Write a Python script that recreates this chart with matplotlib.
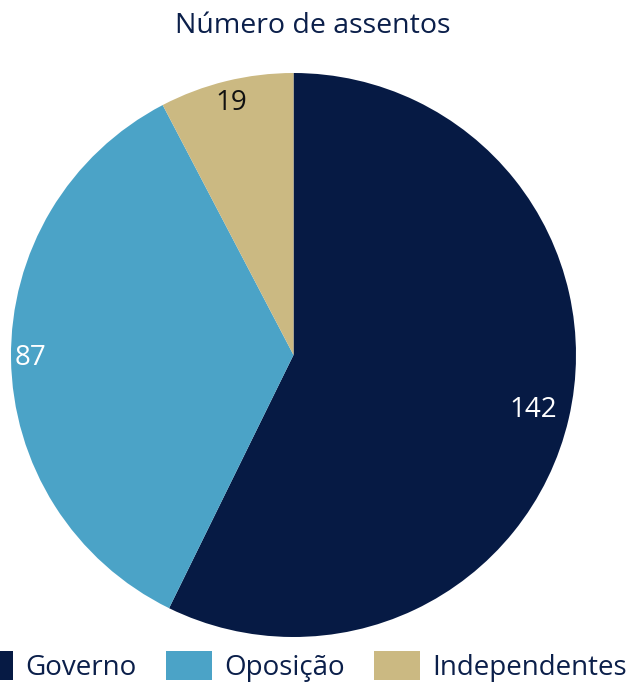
import numpy as np
import matplotlib.pyplot as plt

categorias = ["Governo", "Oposição", "Independentes"]
assentos = [142, 87, 19]
cores = ["#061a44", "#4ba3c7", "#cbb982"]
cor_rotulo = ["white", "white", "#111111"]
dist_rotulo = [0.87, 0.93, 0.92]

plt.rcParams['font.family'] = ['Open Sans', 'DejaVu Sans']
navy = "#0b1f4a"

fig = plt.figure(figsize=(6.34, 6.85), dpi=100)
ax = fig.add_axes([11 / 634, 48 / 685, 565 / 634, 564 / 685])
wedges, _ = ax.pie(assentos, colors=cores, startangle=90, counterclock=False,
                   wedgeprops=dict(linewidth=0))
ax.set_xlim(-1, 1)
ax.set_ylim(-1, 1)
ax.set_aspect('auto')

for w, v, c, d in zip(wedges, assentos, cor_rotulo, dist_rotulo):
    ang = np.deg2rad((w.theta1 + w.theta2) / 2)
    ax.text(d * np.cos(ang), d * np.sin(ang), str(v), color=c, fontsize=20,
            ha='center', va='center')

fig.text(313 / 634, 1 - 26 / 685, "Número de assentos", color=navy, fontsize=20.5,
         ha='center', va='center')

fig.legend(wedges, categorias, loc='lower left', bbox_to_anchor=(-0.052, 0.005),
           ncol=3, frameon=False, fontsize=20, labelcolor=navy,
           borderpad=0, borderaxespad=0,
           handlelength=1.65, handleheight=1.25, handletextpad=0.43,
           columnspacing=1.08)

fig.savefig("out.png", dpi=100)
